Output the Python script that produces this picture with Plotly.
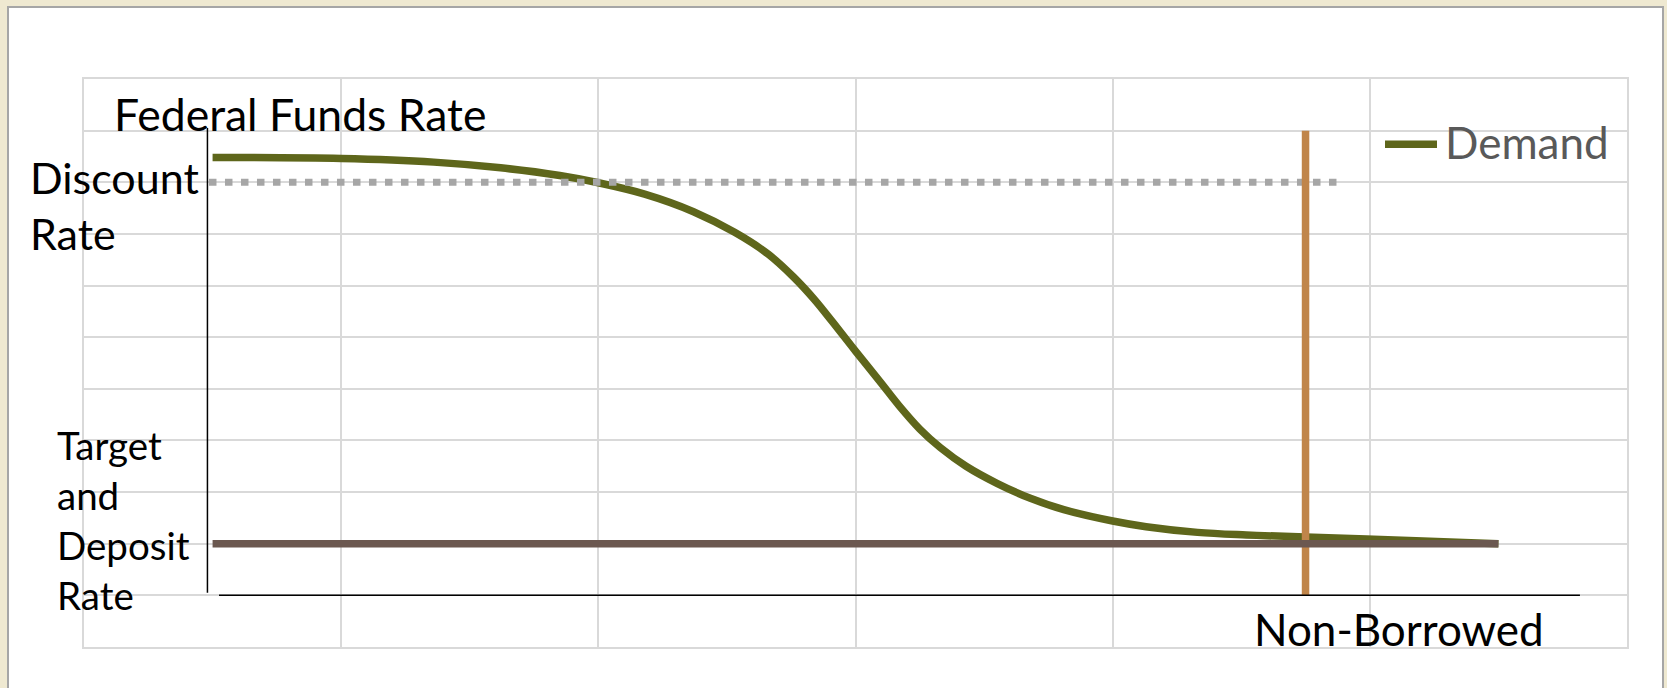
import plotly.graph_objects as go

# Demand for reserves: quantity (x) vs federal funds rate (y)
demand_q = [0.50, 1.00, 1.36, 1.62, 1.85, 2.00, 2.18, 2.37, 2.53, 2.66, 2.76, 2.84,
            2.91, 3.00, 3.10, 3.17, 3.25, 3.33, 3.43, 3.55, 3.68, 3.81, 4.00, 4.13,
            4.33, 4.52, 4.75, 5.18, 5.50]
demand_r = [9.48, 9.46, 9.39, 9.28, 9.13, 8.99, 8.77, 8.43, 8.03, 7.61, 7.16, 6.73,
            6.30, 5.73, 5.11, 4.67, 4.22, 3.86, 3.50, 3.17, 2.88, 2.66, 2.44, 2.33,
            2.22, 2.17, 2.13, 2.06, 2.00]

# Discount rate (ceiling) and target/deposit rate (floor)
discount_q = [0.486, 4.88]
discount_r = [9.0, 9.0]
target_q = [0.50, 5.50]
target_r = [2.0, 2.0]

# Non-borrowed reserves supply (vertical)
supply_q = [4.75, 4.75]
supply_r = [1.0, 10.0]

# Hand-drawn axes
yaxis_q = [0.48, 0.48]
yaxis_r = [1.05, 10.05]
xaxis_q = [0.525, 5.817]
xaxis_r = [1.0, 1.0]

FONT = "Lato"
OLIVE = "#5E661B"
BROWN = "#6B5850"
ORANGE = "#C0854A"
DOTGRAY = "#A6A6A6"
GRID = "#D9D9D9"
LW = 7.5

fig = go.Figure()

fig.add_trace(go.Scatter(x=demand_q, y=demand_r, mode="lines", name="Demand",
                         line=dict(color=OLIVE, width=LW, shape="spline", smoothing=1),
                         showlegend=False, hoverinfo="skip"))
fig.add_trace(go.Scatter(x=discount_q, y=discount_r, mode="lines", name="Discount Rate",
                         line=dict(color=DOTGRAY, width=7, dash="7.5px,8.5px"),
                         showlegend=False, hoverinfo="skip"))
fig.add_trace(go.Scatter(x=supply_q, y=supply_r, mode="lines", name="Non-Borrowed",
                         line=dict(color=ORANGE, width=LW),
                         showlegend=False, hoverinfo="skip"))
fig.add_trace(go.Scatter(x=target_q, y=target_r, mode="lines", name="Target",
                         line=dict(color=BROWN, width=LW),
                         showlegend=False, hoverinfo="skip"))
fig.add_trace(go.Scatter(x=yaxis_q, y=yaxis_r, mode="lines",
                         line=dict(color="black", width=1.5),
                         showlegend=False, hoverinfo="skip"))
fig.add_trace(go.Scatter(x=xaxis_q, y=xaxis_r, mode="lines",
                         line=dict(color="black", width=1.5),
                         showlegend=False, hoverinfo="skip"))

axis_common = dict(showgrid=True, gridcolor=GRID, gridwidth=1.5, zeroline=False,
                   showticklabels=False, ticks="", showline=True, linecolor=GRID,
                   linewidth=1.5, mirror=True, fixedrange=True, tick0=0, dtick=1)

# paper-coordinate helpers (plot area spans 84..1627 px horizontally, 79..647 px vertically)
L, R, T, B = 84, 1627, 79, 647
W, H = R - L, B - T


def px(x):
    return (x - L) / W


def py(y):
    return (B - y) / H


labels = [
    ("Federal Funds Rate", 112, 113, 44.5, "black"),
    ("Discount<br>Rate", 28, 205, 43, "black"),
    ("Target<br>and<br>Deposit<br>Rate", 55, 520, 38.5, "black"),
    ("Non-Borrowed", 1252, 629, 44, "black"),
    ("Demand", 1443, 142, 44, "#595959"),
]
annotations = [
    dict(text=t, x=px(x), y=py(y), xref="paper", yref="paper", xanchor="left",
         yanchor="middle", align="left", showarrow=False,
         font=dict(family=FONT, size=s, color=c))
    for t, x, y, s, c in labels
]

# legend key for the demand curve
legend_key = dict(type="line", xref="paper", yref="paper",
                  x0=px(1385), x1=px(1437), y0=py(144.3), y1=py(144.3),
                  line=dict(color=OLIVE, width=LW))

fig.update_layout(
    width=1667, height=688, autosize=False,
    margin=dict(l=L, r=1667 - R, t=T, b=688 - B, pad=0),
    paper_bgcolor="#EFE9D1", plot_bgcolor="white",
    xaxis=dict(range=[0, 6], **axis_common),
    yaxis=dict(range=[0, 11], **axis_common),
    showlegend=False,
    shapes=[dict(type="rect", xref="paper", yref="paper",
                 x0=px(8), x1=px(1663), y0=py(720), y1=py(7),
                 fillcolor="white", line=dict(color="#A6A6A6", width=2),
                 layer="below"),
            legend_key],
    annotations=annotations,
)

fig.write_html("out.html")
